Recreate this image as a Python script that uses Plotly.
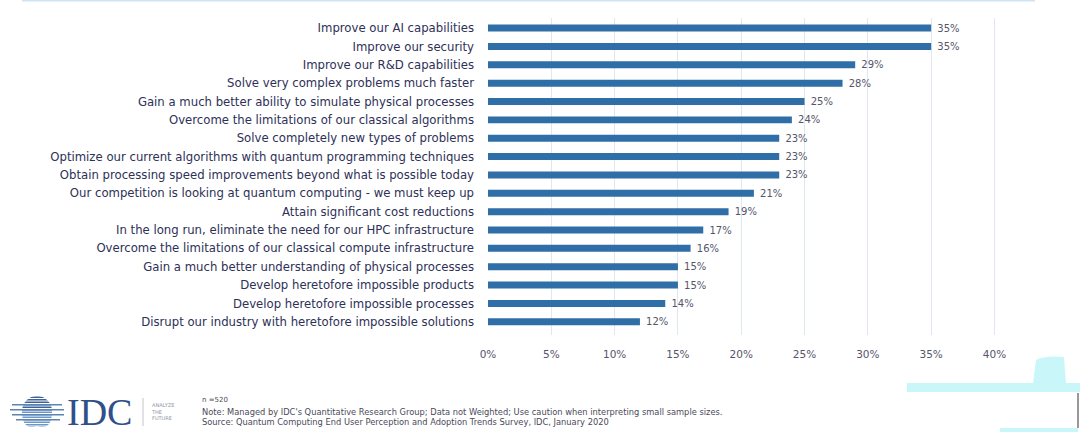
import plotly.graph_objects as go

# Survey answers (top to bottom) and share of respondents, in percent
categories = [
    "Improve our AI capabilities",
    "Improve our security",
    "Improve our R&D capabilities",
    "Solve very complex problems much faster",
    "Gain a much better ability to simulate physical processes",
    "Overcome the limitations of our classical algorithms",
    "Solve completely new types of problems",
    "Optimize our current algorithms with quantum programming techniques",
    "Obtain processing speed improvements beyond what is possible today",
    "Our competition is looking at quantum computing - we must keep up",
    "Attain significant cost reductions",
    "In the long run, eliminate the need for our HPC infrastructure",
    "Overcome the limitations of our classical compute infrastructure",
    "Gain a much better understanding of physical processes",
    "Develop heretofore impossible products",
    "Develop heretofore impossible processes",
    "Disrupt our industry with heretofore impossible solutions",
]
values = [35, 35, 29, 28, 25, 24, 23, 23, 23, 21, 19, 17, 16, 15, 15, 14, 12]
x_ticks = [0, 5, 10, 15, 20, 25, 30, 35, 40]
x_tick_text = [f"{t}%" for t in x_ticks]

positions = list(range(len(categories)))
BAR = "#2f6ea6"
TEXT = "#2e3057"
FONT = "DejaVu Sans, Verdana, sans-serif"

fig = go.Figure()
fig.add_trace(go.Bar(
    x=values,
    y=positions,
    orientation="h",
    width=0.38,
    marker=dict(color=BAR, line=dict(width=0)),
    text=[f" {v}%" for v in values],
    textposition="outside",
    constraintext="none",
    textfont=dict(size=10, color="#55556a", family=FONT),
    cliponaxis=False,
    hoverinfo="skip",
))

fig.update_layout(
    width=1086,
    height=432,
    margin=dict(l=488, r=89, t=18, b=97),
    paper_bgcolor="white",
    plot_bgcolor="white",
    showlegend=False,
    font=dict(family=FONT, color=TEXT),
    xaxis=dict(
        range=[0, 40.2],
        tickvals=x_ticks,
        ticktext=x_tick_text,
        tickfont=dict(size=10.5, color="#55556a"),
        showgrid=True,
        gridcolor="#dfe7ef",
        gridwidth=1,
        zeroline=False,
        showline=False,
        ticks="",
        ticklabelstandoff=11,
        fixedrange=True,
    ),
    yaxis=dict(
        range=[16.72, -0.55],
        tickvals=positions,
        ticktext=categories,
        tickfont=dict(size=11.7, color=TEXT),
        showgrid=False,
        zeroline=False,
        showline=False,
        ticks="",
        ticklabelstandoff=13,
        fixedrange=True,
    ),
)


# footer decorations use pixel coordinates mapped to paper space
def px(x):
    return (x - 488) / 509


def py(y):
    return (335 - y) / 317


shapes = []
# thin header rule
shapes.append(dict(type="line", xref="paper", yref="paper",
                   x0=px(22), x1=px(1035), y0=py(0.5), y1=py(0.5),
                   line=dict(color="#cfe3f5", width=2)))

# cyan accent at the bottom right
cyan = "#c9f6f8"
shapes.append(dict(type="rect", xref="paper", yref="paper",
                   x0=px(907), x1=px(1080), y0=py(392), y1=py(383),
                   fillcolor=cyan, line=dict(width=0), layer="below"))
shapes.append(dict(type="path", xref="paper", yref="paper",
                   path=f"M {px(1033)},{py(384)} L {px(1036)},{py(360)} Q {px(1045)},{py(355)} {px(1064)},{py(357)} L {px(1066)},{py(384)} Z",
                   fillcolor=cyan, line=dict(width=0), layer="below"))
shapes.append(dict(type="rect", xref="paper", yref="paper",
                   x0=px(1000), x1=px(1078), y0=py(432), y1=py(428),
                   fillcolor=cyan, line=dict(width=0), layer="below"))
shapes.append(dict(type="line", xref="paper", yref="paper",
                   x0=px(1078), x1=px(1078), y0=py(428), y1=py(393),
                   line=dict(color="#555", width=1.2)))

# IDC globe mark: a disc built from horizontal stripes
cx, cy, r = 37, 411, 15
shapes.append(dict(type="circle", xref="paper", yref="paper",
                   x0=px(cx - r), x1=px(cx + r), y0=py(cy + r), y1=py(cy - r),
                   fillcolor="#3d639a", line=dict(width=0)))
# lighter lower half
shapes.append(dict(type="path", xref="paper", yref="paper",
                   path=(f"M {px(cx - r)},{py(cy)} L {px(cx + r)},{py(cy)} "
                         f"Q {px(cx + r)},{py(cy + r * 1.33)} {px(cx)},{py(cy + r)} "
                         f"Q {px(cx - r)},{py(cy + r * 1.33)} {px(cx - r)},{py(cy)} Z"),
                   fillcolor="#6b98c6", line=dict(width=0)))
for k in range(-6, 7):
    yy = cy + k * 2.5
    shapes.append(dict(type="line", xref="paper", yref="paper",
                       x0=px(cx - r - 3), x1=px(cx + r + 3), y0=py(yy), y1=py(yy),
                       line=dict(color="white", width=1)))
# stripes reaching out to the left and right of the disc
for k, (left, right) in {-3: (12, 62), -1: (10, 64), 1: (12, 64), 3: (16, 60)}.items():
    yy = cy + k * 2.5 + 1.25
    shapes.append(dict(type="line", xref="paper", yref="paper",
                       x0=px(left), x1=px(right), y0=py(yy), y1=py(yy),
                       line=dict(color="#5b83b5", width=1.3)))
# separator next to the brand text
shapes.append(dict(type="line", xref="paper", yref="paper",
                   x0=px(143), x1=px(143), y0=py(398), y1=py(426),
                   line=dict(color="#c0c4cc", width=1)))
fig.update_layout(shapes=shapes)

annotations = [
    dict(text="IDC", x=px(65), y=py(412), xanchor="left", yanchor="middle",
         font=dict(family="Liberation Serif, DejaVu Serif, serif", size=38, color="#2f5088")),
    dict(text="ANALYZE<br>THE<br>FUTURE", x=px(149), y=py(411), xanchor="left", yanchor="middle",
         align="left", font=dict(size=5, color="#9096a6", family=FONT)),
    dict(text="n =520", x=px(200), y=py(400), xanchor="left", yanchor="middle",
         font=dict(size=7, color="#4a4a5a", family=FONT)),
    dict(text="Note: Managed by IDC's Quantitative Research Group; Data not Weighted; Use caution when interpreting small sample sizes.",
         x=px(200), y=py(411.5), xanchor="left", yanchor="middle",
         font=dict(size=8.3, color="#4a4a5a", family=FONT)),
    dict(text="Source: Quantum Computing End User Perception and Adoption Trends Survey, IDC, January 2020",
         x=px(200), y=py(421.5), xanchor="left", yanchor="middle",
         font=dict(size=8.3, color="#4a4a5a", family=FONT)),
]
for a in annotations:
    a.update(xref="paper", yref="paper", showarrow=False)
fig.update_layout(annotations=annotations)

fig.write_html("out.html")
